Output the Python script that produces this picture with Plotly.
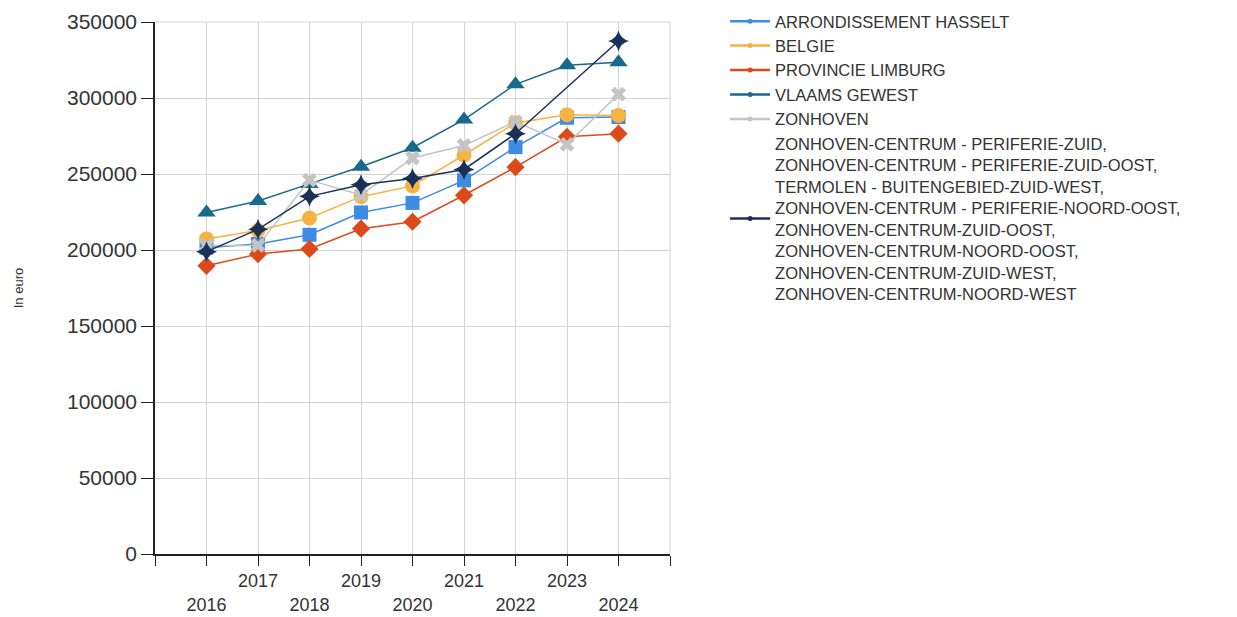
import plotly.graph_objects as go

years = [2016, 2017, 2018, 2019, 2020, 2021, 2022, 2023, 2024]
hasselt = [201500, 204000, 210000, 224700, 231000, 245800, 267700, 287000, 287500]
belgie = [207300, 212900, 221100, 235100, 242200, 262500, 283500, 289000, 288500]
limburg = [189600, 197300, 200700, 214000, 218600, 236000, 254500, 274500, 276500]
vlaams = [224700, 232200, 243500, 254800, 267300, 285800, 309000, 321500, 323500]
zonhoven = [203000, 203000, 246000, 236200, 260500, 268800, 284500, 269500, 302500]
centrum = [198900, 213600, 235300, 242900, 247000, 253000, 276500, None, 337500]

names = [
    "ARRONDISSEMENT HASSELT",
    "BELGIE",
    "PROVINCIE LIMBURG",
    "VLAAMS GEWEST",
    "ZONHOVEN",
    "ZONHOVEN-CENTRUM - PERIFERIE-ZUID,<br>ZONHOVEN-CENTRUM - PERIFERIE-ZUID-OOST,<br>"
    "TERMOLEN - BUITENGEBIED-ZUID-WEST,<br>ZONHOVEN-CENTRUM - PERIFERIE-NOORD-OOST,<br>"
    "ZONHOVEN-CENTRUM-ZUID-OOST,<br>ZONHOVEN-CENTRUM-NOORD-OOST,<br>"
    "ZONHOVEN-CENTRUM-ZUID-WEST,<br>ZONHOVEN-CENTRUM-NOORD-WEST",
]
series = [hasselt, belgie, limburg, vlaams, zonhoven, centrum]
colors = ["#3d8be3", "#f7b244", "#dc4a1c", "#19698d", "#c4c4c4", "#1b3058"]
symbols = ["square", "circle", "diamond", "triangle-up", "x", "star-diamond"]
sizes = [14, 15, 14, 16, 13, 15]

y_ticks = [0, 50000, 100000, 150000, 200000, 250000, 300000, 350000]
tick_years = list(range(2015, 2026))
tick_text = []
for yv in tick_years:
    if yv < 2016 or yv > 2024:
        tick_text.append("")
    elif yv % 2 == 1:
        tick_text.append(str(yv))
    else:
        tick_text.append("<br>" + str(yv))

fig = go.Figure()
for name, vals, c, s, sz in zip(names, series, colors, symbols, sizes):
    fig.add_trace(go.Scatter(
        x=years, y=vals, mode="lines+markers", name=name, showlegend=False,
        connectgaps=True,
        line=dict(color=c, width=1.5),
        marker=dict(color=c, symbol=s, size=sz, line=dict(width=0)),
    ))
for name, c in zip(names, colors):
    fig.add_trace(go.Scatter(
        x=[None], y=[None], mode="lines+markers", name=name,
        line=dict(color=c, width=2.5),
        marker=dict(color=c, symbol="circle", size=5),
    ))

fig.update_layout(
    width=1237, height=617,
    margin=dict(l=155, r=567, t=22, b=63, autoexpand=False),
    paper_bgcolor="white", plot_bgcolor="white",
    font=dict(family="Liberation Sans, Arial, sans-serif", color="#333333"),
    legend=dict(x=1.107, y=1.034, xanchor="left", yanchor="top",
                font=dict(size=16.5, color="#333333"), tracegroupgap=0,
                itemwidth=40, maxheight=600),
    xaxis=dict(range=[2015, 2025], tickmode="array", tickvals=tick_years,
               ticktext=tick_text, showgrid=True, gridcolor="#d4d4d4",
               gridwidth=1, showline=True, linecolor="#222222", linewidth=1.5,
               ticks="outside", ticklen=10, tickcolor="#222222",
               tickfont=dict(size=18, color="#333333"), zeroline=False,
               automargin=False),
    yaxis=dict(range=[0, 350000], tickmode="array",
               tickvals=y_ticks, ticktext=[str(v) for v in y_ticks],
               showgrid=True, gridcolor="#d4d4d4", gridwidth=1,
               showline=True, linecolor="#222222", linewidth=1.5,
               ticks="outside", ticklen=12, tickcolor="#222222",
               tickfont=dict(size=21, color="#333333"), zeroline=False,
               automargin=False,
               title=dict(text="In euro", font=dict(size=13, color="#333333"),
                          standoff=40)),
)
fig.add_shape(type="line", xref="paper", yref="paper", x0=0, x1=1, y0=1, y1=1,
              line=dict(color="#d4d4d4", width=1), layer="below")
fig.add_shape(type="line", xref="paper", yref="paper", x0=1, x1=1, y0=0, y1=1,
              line=dict(color="#d4d4d4", width=1), layer="below")

fig.write_html("out.html", config={"displayModeBar": False},
               post_script="document.body.style.margin='0';")
